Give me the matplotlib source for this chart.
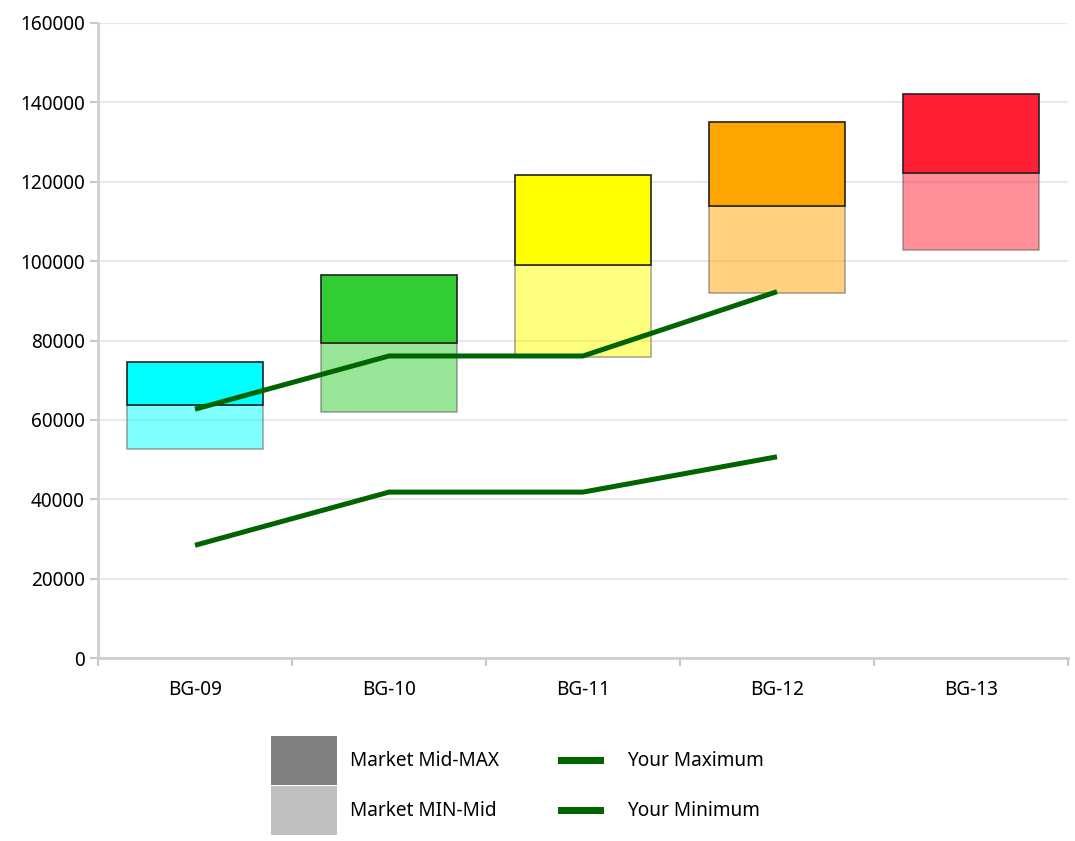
import matplotlib.pyplot as plt
import numpy as np
from matplotlib.legend_handler import HandlerPatch
from matplotlib.patches import Patch, Rectangle

plt.rcParams["font.family"] = ["Noto Sans", "DejaVu Sans"]

grades = ["BG-09", "BG-10", "BG-11", "BG-12", "BG-13"]
market_min = [52650, 62050, 75900, 92000, 102800]
market_mid = [63750, 79350, 99000, 113900, 122300]
market_max = [74500, 96500, 121600, 135050, 142100]
your_max = [62700, 76100, 76100, 92300]
your_min = [28400, 41800, 41800, 50700]
colors = ["#00ffff", "#32cd32", "#ffff00", "#ffa500", "#ff2035"]

fs = 13.7
fig = plt.figure(figsize=(10.75, 8.41), dpi=100)
ax = fig.add_axes([98 / 1075, 1 - 658 / 841, 970 / 1075, 635 / 841])

x = np.arange(len(grades))
low = np.array(market_mid) - np.array(market_min)
high = np.array(market_max) - np.array(market_mid)

ax.bar(x, low, bottom=market_min, width=0.7, color=colors, alpha=0.5,
       edgecolor="#555555", linewidth=1.2, zorder=2)
ax.bar(x, high, bottom=market_mid, width=0.7, color=colors,
       edgecolor="#222222", linewidth=1.2, zorder=3)

line_col = "#006400"
ax.plot(x[:len(your_max)], your_max, color=line_col, lw=3.6, zorder=4,
        solid_capstyle="butt")
ax.plot(x[:len(your_min)], your_min, color=line_col, lw=3.6, zorder=4,
        solid_capstyle="butt")

ax.set_xlim(-0.5, len(grades) - 0.5)
ax.set_ylim(0, 160000)
ax.set_yticks(np.arange(0, 160001, 20000))
ax.set_xticks(x)
ax.set_xticklabels(grades)
ax.set_xticks(np.arange(-0.5, len(grades), 1), minor=True)
ax.tick_params(axis="x", which="major", length=0, pad=16, labelsize=fs)
ax.tick_params(axis="x", which="minor", length=6, color="#c8c8c8", width=1.5)
ax.tick_params(axis="y", length=6, color="#c8c8c8", width=1.5, labelsize=fs)
ax.grid(axis="y", color="#e8e8e8", lw=1.5, zorder=0)
ax.set_axisbelow(True)

for side in ["top", "right"]:
    ax.spines[side].set_visible(False)
ax.spines["left"].set_color("#cfcfcf")
ax.spines["left"].set_linewidth(2)
ax.spines["bottom"].set_color("#cfcfcf")
ax.spines["bottom"].set_linewidth(2)


def short_bar(legend, orig_handle, xdescent, ydescent, width, height, fontsize):
    # thin bar centred in the handle box, like a short line sample
    w, h = 33.1, 5.0
    return Rectangle((-xdescent + width / 2 - w / 2, -ydescent + height / 2 - h / 2), w, h)


line_max = Patch(facecolor=line_col, edgecolor="none")
line_min = Patch(facecolor=line_col, edgecolor="none")
handles = [
    Patch(facecolor="#808080", edgecolor="none"),
    Patch(facecolor="#c0c0c0", edgecolor="none"),
    line_max,
    line_min,
]
labels = ["Market Mid-MAX", "Market MIN-Mid", "Your Maximum", "Your Minimum"]
hmap = {line_max: HandlerPatch(patch_func=short_bar),
        line_min: HandlerPatch(patch_func=short_bar)}
fig.legend(handles, labels, ncol=2, loc="center", bbox_to_anchor=(0.4814, 0.066),
           frameon=False, fontsize=fs, handlelength=3.45, handleheight=3.55,
           labelspacing=0.1, handletextpad=0.7, columnspacing=2.6,
           borderpad=0, borderaxespad=0, handler_map=hmap)

fig.savefig("out.png", dpi=100)
